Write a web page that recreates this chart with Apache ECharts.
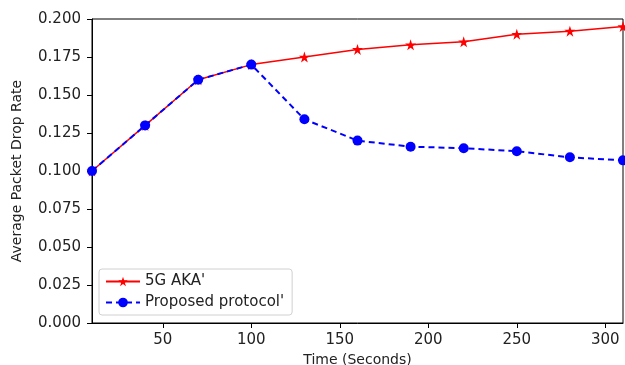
<!DOCTYPE html>
<html>
<head>
<meta charset="utf-8">
<script src="https://cdn.jsdelivr.net/npm/echarts@6/dist/echarts.min.js"></script>
<style>
  html, body { margin: 0; padding: 0; background: #fff; }
  #chart { width: 625px; height: 365px; }
</style>
</head>
<body>
<div id="chart"></div>
<script>
const times = [10, 40, 70, 100, 130, 160, 190, 220, 250, 280, 310];
const akaRates = [0.100, 0.130, 0.160, 0.170, 0.175, 0.180, 0.183, 0.185, 0.190, 0.192, 0.195];
const proposedRates = [0.100, 0.130, 0.160, 0.170, 0.134, 0.120, 0.116, 0.115, 0.113, 0.109, 0.107];
const xTicks = [50, 100, 150, 200, 250, 300];

const font = "DejaVu Sans";
const pairs = (ys) => times.map((t, i) => [t, ys[i]]);

const chart = echarts.init(document.getElementById("chart"));
chart.setOption({
  animation: false,
  textStyle: { fontFamily: font },
  grid: {
    left: 92,
    right: 2,
    top: 19,
    bottom: 42,
    outerBoundsMode: "none",
    show: true,
    borderColor: "#000",
    borderWidth: 1,
  },
  legend: {
    orient: "vertical",
    left: 99,
    top: 269,
    itemWidth: 34,
    itemHeight: 12,
    itemGap: 6,
    itemTextGap: 11,
    padding: [5, 8, 5, 6],
    borderColor: "#d0d0d0",
    borderWidth: 1,
    borderRadius: 3,
    textStyle: { fontFamily: font, fontSize: 15, color: "#222" },
    data: ["5G AKA'", "Proposed protocol'"],
  },
  xAxis: {
    type: "value",
    min: 10,
    max: 310,
    name: "Time (Seconds)",
    nameLocation: "middle",
    nameGap: 27,
    nameTextStyle: { fontFamily: font, fontSize: 14, color: "#222" },
    axisLine: { lineStyle: { color: "#000" } },
    axisTick: { length: 5, lineStyle: { color: "#000" }, customValues: xTicks },
    axisLabel: { fontSize: 15, color: "#222", margin: 10, customValues: xTicks },
    splitLine: { show: false },
  },
  yAxis: {
    type: "value",
    min: 0,
    max: 0.2,
    interval: 0.025,
    name: "Average Packet Drop Rate",
    nameLocation: "middle",
    nameGap: 68,
    nameTextStyle: { fontFamily: font, fontSize: 14, color: "#222" },
    axisLine: { show: true, lineStyle: { color: "#000" } },
    axisTick: { show: true, length: 5, lineStyle: { color: "#000" } },
    axisLabel: {
      fontSize: 15,
      color: "#222",
      margin: 11,
      formatter: (v) => v.toFixed(3),
    },
    splitLine: { show: false },
  },
  series: [
    {
      name: "5G AKA'",
      type: "line",
      data: pairs(akaRates),
      symbol: "path://M50,0 L61.8,36.2 L100,36.2 L69.1,58.8 L80.9,95.1 L50,72.7 L19.1,95.1 L30.9,58.8 L0,36.2 L38.2,36.2 Z",
      symbolSize: 11,
      color: "#ff0000",
      lineStyle: { color: "#ff0000", width: 1.5 },
      itemStyle: { color: "#ff0000" },
    },
    {
      name: "Proposed protocol'",
      type: "line",
      data: pairs(proposedRates),
      symbol: "circle",
      symbolSize: 10,
      color: "#0000ff",
      lineStyle: { color: "#0000ff", width: 2, type: [6, 4] },
      itemStyle: { color: "#0000ff" },
    },
  ],
});
</script>
</body>
</html>
